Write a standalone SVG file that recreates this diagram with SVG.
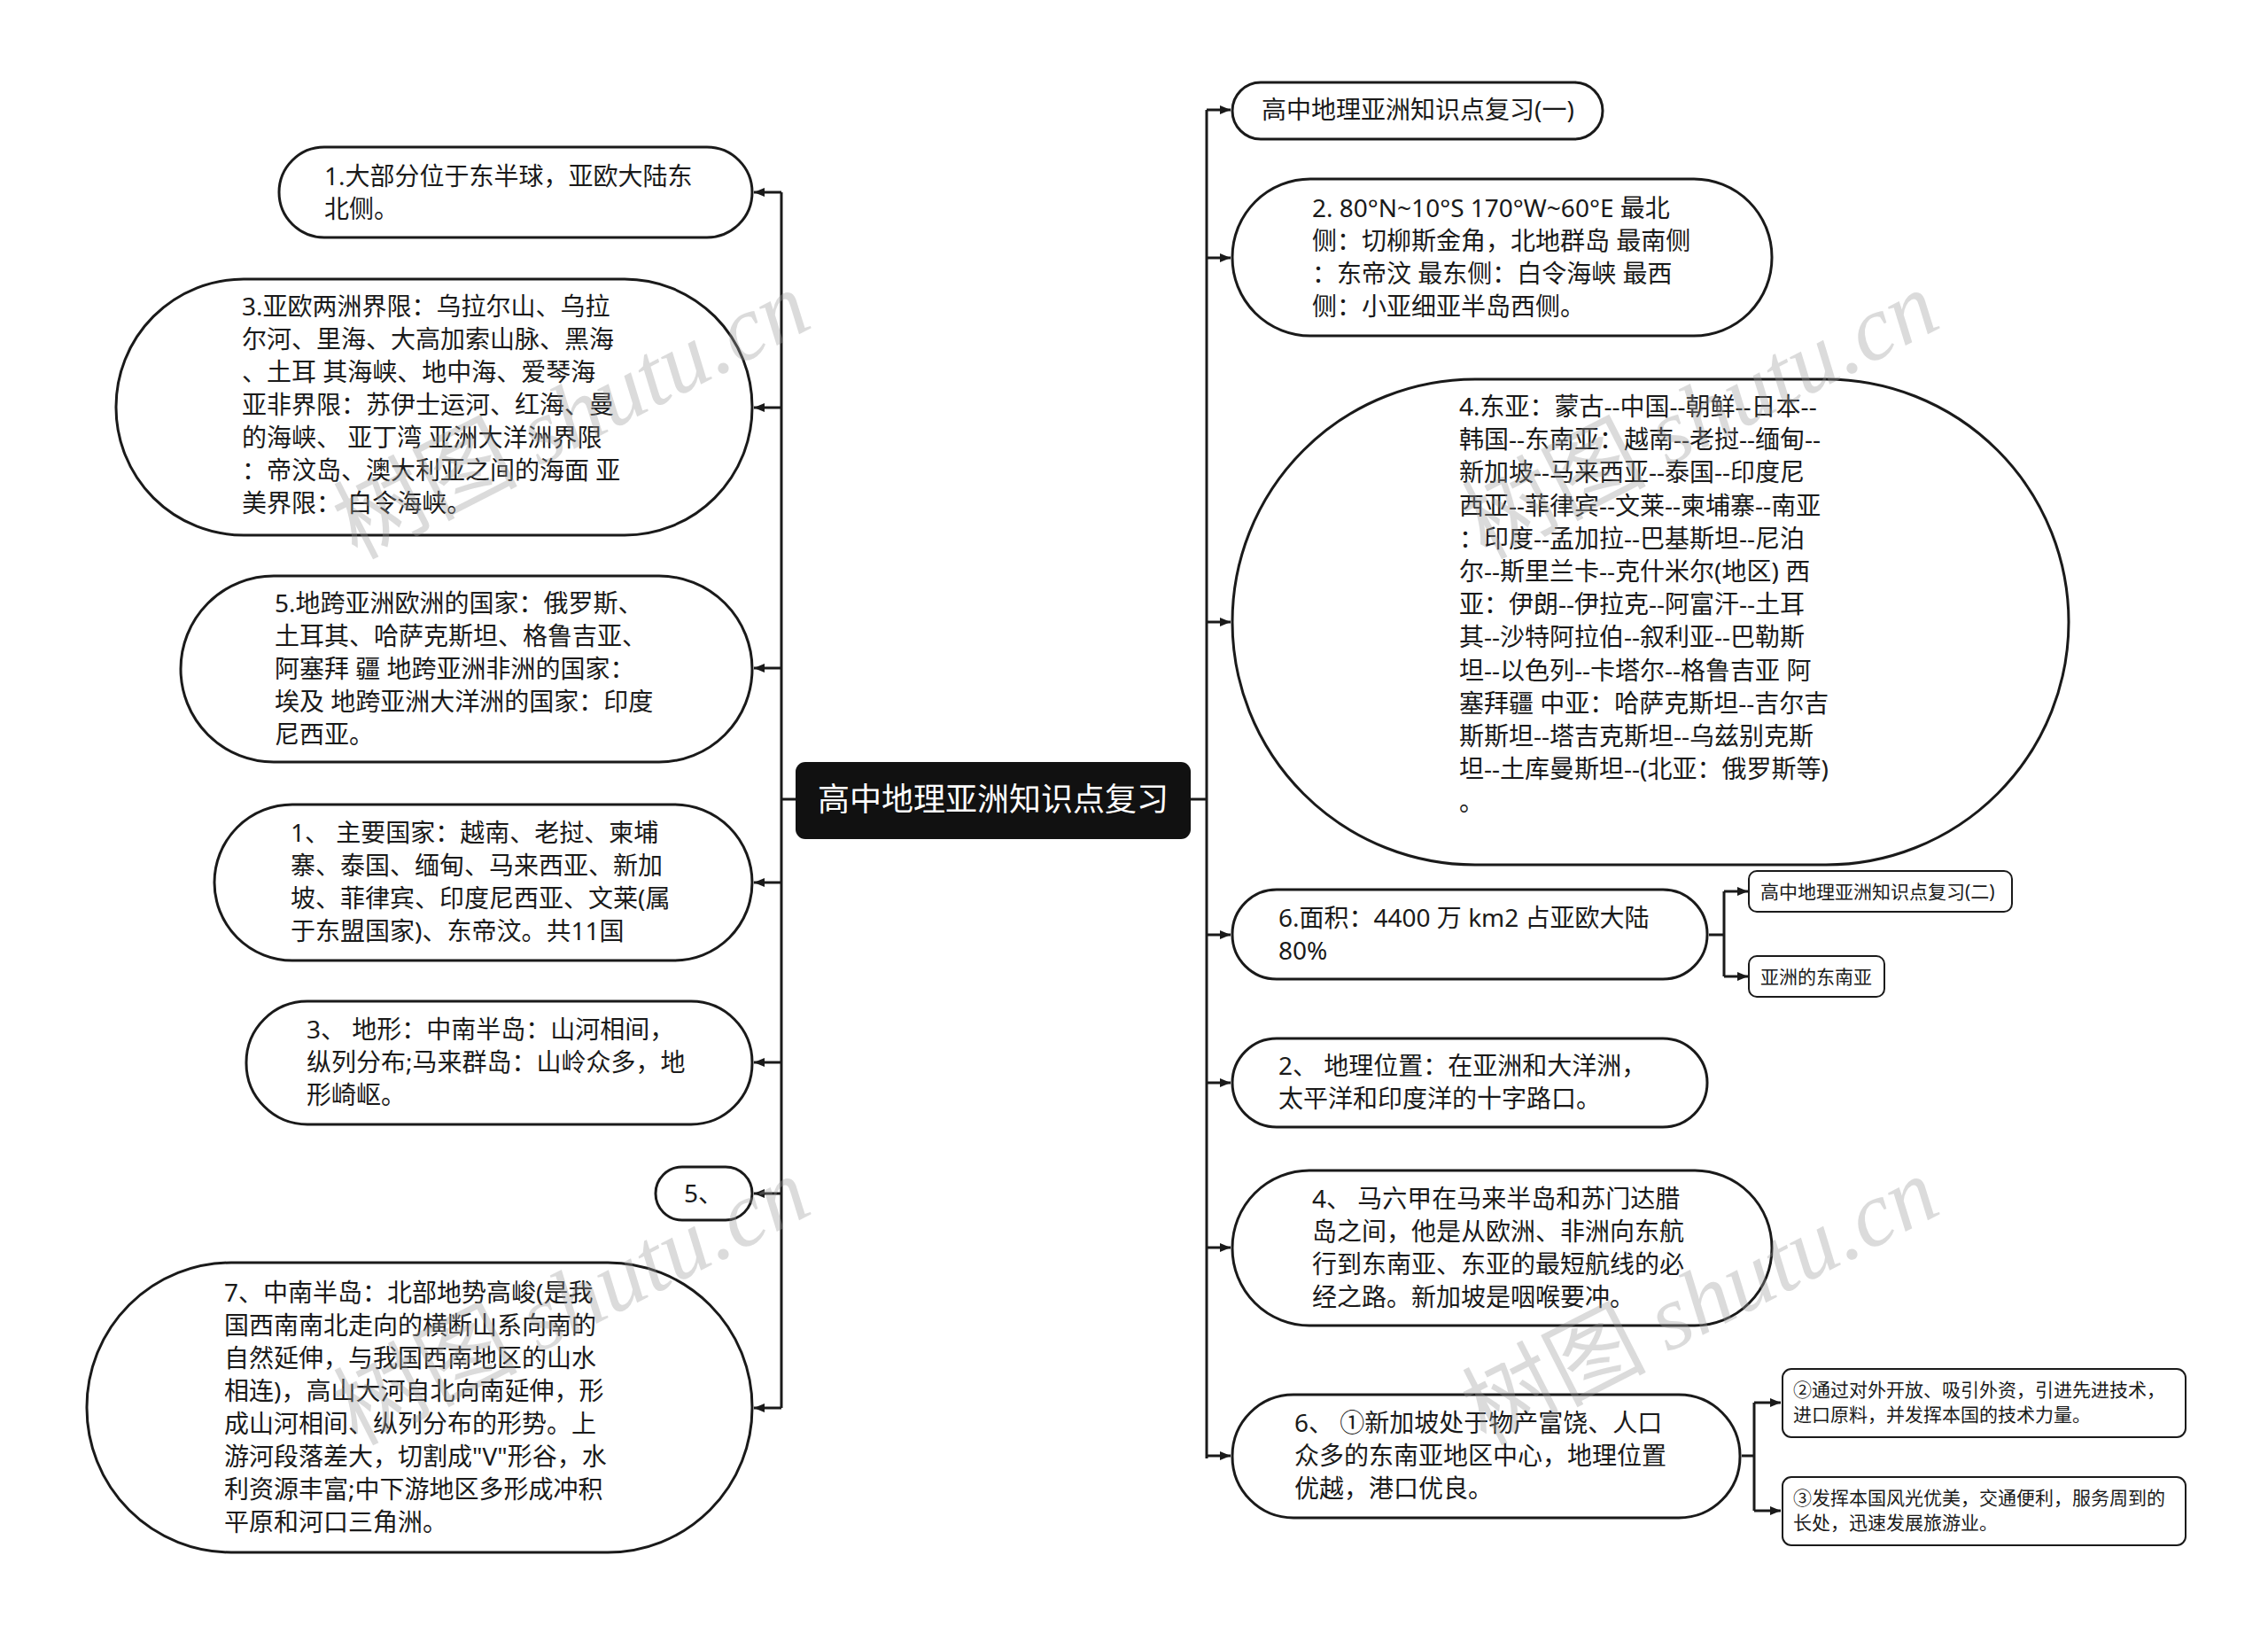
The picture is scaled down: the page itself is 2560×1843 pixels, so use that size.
<svg xmlns="http://www.w3.org/2000/svg" width="2560" height="1843" viewBox="0 0 2560 1843">
<defs>
<marker id="arr" markerUnits="userSpaceOnUse" markerWidth="12" markerHeight="10" refX="12" refY="5" orient="auto">
<path d="M0,0 L12,5 L0,10 z" fill="#1a1a1a"/>
</marker>
<style>
.n{fill:#fff;stroke:#1a1a1a;stroke-width:3}
.s{fill:#fff;stroke:#1a1a1a;stroke-width:2}
.t{font-family:"Noto Sans","Noto Sans CJK SC",sans-serif;font-size:28px;fill:#1a1a1a}
.ts{font-family:"Noto Sans","Noto Sans CJK SC",sans-serif;font-size:21px;fill:#1a1a1a}
.c{fill:none;stroke:#1a1a1a;stroke-width:3}
.wm{font-size:104px;fill:#9a9a9a;opacity:0.35}
</style>
</defs>
<rect width="2560" height="1843" fill="#fff"/>

<g id="connectors">
<path class="c" d="M898,902 H882 M882,217 V1589 M1344,902 H1362 M1362,124 V1646"/>
<path class="c" marker-end="url(#arr)" d="M882,217 H851"/>
<path class="c" marker-end="url(#arr)" d="M882,460 H851"/>
<path class="c" marker-end="url(#arr)" d="M882,754 H851"/>
<path class="c" marker-end="url(#arr)" d="M882,996 H851"/>
<path class="c" marker-end="url(#arr)" d="M882,1199 H851"/>
<path class="c" marker-end="url(#arr)" d="M882,1347 H851"/>
<path class="c" marker-end="url(#arr)" d="M882,1589 H851"/>
<path class="c" marker-end="url(#arr)" d="M1362,124 H1389"/>
<path class="c" marker-end="url(#arr)" d="M1362,291 H1389"/>
<path class="c" marker-end="url(#arr)" d="M1362,702 H1389"/>
<path class="c" marker-end="url(#arr)" d="M1362,1055 H1389"/>
<path class="c" marker-end="url(#arr)" d="M1362,1222 H1389"/>
<path class="c" marker-end="url(#arr)" d="M1362,1408 H1389"/>
<path class="c" marker-end="url(#arr)" d="M1362,1643 H1389"/>
<path class="c" d="M1929,1055 H1946 M1946,1006 V1102 M1966,1643 H1980 M1980,1583 V1705"/>
<path class="c" marker-end="url(#arr)" d="M1946,1006 H1973"/>
<path class="c" marker-end="url(#arr)" d="M1946,1102 H1973"/>
<path class="c" marker-end="url(#arr)" d="M1980,1583 H2010"/>
<path class="c" marker-end="url(#arr)" d="M1980,1705 H2010"/>
</g>

<g id="root">
<rect x="898" y="860" width="446" height="87" rx="11" fill="#111"/>
<text x="1121" y="915" text-anchor="middle" font-family="Noto Sans CJK SC, sans-serif" font-size="36" fill="#fff">高中地理亚洲知识点复习</text>
</g>

<g id="L1">
<rect class="n" x="315" y="166" width="534" height="102" rx="51"/>
<text class="t" x="366" y="209"><tspan x="366">1.大部分位于东半球，亚欧大陆东</tspan><tspan x="366" dy="37">北侧。</tspan></text>
</g>
<g id="L2">
<rect class="n" x="131" y="315" width="718" height="289" rx="144"/>
<text class="t" x="273" y="356"><tspan x="273">3.亚欧两洲界限：乌拉尔山、乌拉</tspan><tspan x="273" dy="37">尔河、里海、大高加索山脉、黑海</tspan><tspan x="273" dy="37">、土耳 其海峡、地中海、爱琴海</tspan><tspan x="273" dy="37">亚非界限：苏伊士运河、红海、曼</tspan><tspan x="273" dy="37">的海峡、 亚丁湾 亚洲大洋洲界限</tspan><tspan x="273" dy="37">：帝汶岛、澳大利亚之间的海面 亚</tspan><tspan x="273" dy="37">美界限： 白令海峡。</tspan></text>
</g>
<g id="L3">
<rect class="n" x="204" y="650" width="645" height="210" rx="105"/>
<text class="t" x="310" y="691"><tspan x="310">5.地跨亚洲欧洲的国家：俄罗斯、</tspan><tspan x="310" dy="37">土耳其、哈萨克斯坦、格鲁吉亚、</tspan><tspan x="310" dy="37">阿塞拜 疆 地跨亚洲非洲的国家：</tspan><tspan x="310" dy="37">埃及 地跨亚洲大洋洲的国家：印度</tspan><tspan x="310" dy="37">尼西亚。</tspan></text>
</g>
<g id="L4">
<rect class="n" x="242" y="908" width="607" height="176" rx="88"/>
<text class="t" x="328" y="950"><tspan x="328">1、 主要国家：越南、老挝、柬埔</tspan><tspan x="328" dy="37">寨、泰国、缅甸、马来西亚、新加</tspan><tspan x="328" dy="37">坡、菲律宾、印度尼西亚、文莱(属</tspan><tspan x="328" dy="37">于东盟国家)、东帝汶。共11国</tspan></text>
</g>
<g id="L5">
<rect class="n" x="278" y="1130" width="571" height="139" rx="69"/>
<text class="t" x="346" y="1172"><tspan x="346">3、 地形：中南半岛：山河相间，</tspan><tspan x="346" dy="37">纵列分布;马来群岛：山岭众多，地</tspan><tspan x="346" dy="37">形崎岖。</tspan></text>
</g>
<g id="L6">
<rect class="n" x="740" y="1317" width="109" height="60" rx="30"/>
<text class="t" x="772" y="1357">5、</text>
</g>
<g id="L7">
<rect class="n" x="98" y="1425" width="751" height="327" rx="163"/>
<text class="t" x="253" y="1469"><tspan x="253">7、中南半岛：北部地势高峻(是我</tspan><tspan x="253" dy="37">国西南南北走向的横断山系向南的</tspan><tspan x="253" dy="37">自然延伸，与我国西南地区的山水</tspan><tspan x="253" dy="37">相连)，高山大河自北向南延伸，形</tspan><tspan x="253" dy="37">成山河相间、纵列分布的形势。上</tspan><tspan x="253" dy="37">游河段落差大，切割成"V"形谷，水</tspan><tspan x="253" dy="37">利资源丰富;中下游地区多形成冲积</tspan><tspan x="253" dy="37">平原和河口三角洲。</tspan></text>
</g>

<g id="R1">
<rect class="n" x="1391" y="93" width="418" height="64" rx="32"/>
<text class="t" x="1424" y="134">高中地理亚洲知识点复习(一)</text>
</g>
<g id="R2">
<rect class="n" x="1391" y="202" width="609" height="177" rx="88"/>
<text class="t" x="1481" y="245"><tspan x="1481">2. 80°N~10°S 170°W~60°E 最北</tspan><tspan x="1481" dy="37">侧：切柳斯金角，北地群岛 最南侧</tspan><tspan x="1481" dy="37">：东帝汶 最东侧：白令海峡 最西</tspan><tspan x="1481" dy="37">侧：小亚细亚半岛西侧。</tspan></text>
</g>
<g id="R3">
<rect class="n" x="1391" y="428" width="944" height="548" rx="274"/>
<text class="t" x="1647" y="469"><tspan x="1647">4.东亚：蒙古--中国--朝鲜--日本--</tspan><tspan x="1647" dy="37.2">韩国--东南亚：越南--老挝--缅甸--</tspan><tspan x="1647" dy="37.2">新加坡--马来西亚--泰国--印度尼</tspan><tspan x="1647" dy="37.2">西亚--菲律宾--文莱--柬埔寨--南亚</tspan><tspan x="1647" dy="37.2">：印度--孟加拉--巴基斯坦--尼泊</tspan><tspan x="1647" dy="37.2">尔--斯里兰卡--克什米尔(地区) 西</tspan><tspan x="1647" dy="37.2">亚：伊朗--伊拉克--阿富汗--土耳</tspan><tspan x="1647" dy="37.2">其--沙特阿拉伯--叙利亚--巴勒斯</tspan><tspan x="1647" dy="37.2">坦--以色列--卡塔尔--格鲁吉亚 阿</tspan><tspan x="1647" dy="37.2">塞拜疆 中亚：哈萨克斯坦--吉尔吉</tspan><tspan x="1647" dy="37.2">斯斯坦--塔吉克斯坦--乌兹别克斯</tspan><tspan x="1647" dy="37.2">坦--土库曼斯坦--(北亚：俄罗斯等)</tspan><tspan x="1647" dy="37.2">。</tspan></text>
</g>
<g id="R4">
<rect class="n" x="1391" y="1004" width="536" height="101" rx="50"/>
<text class="t" x="1443" y="1046"><tspan x="1443">6.面积：4400 万 km2 占亚欧大陆</tspan><tspan x="1443" dy="37">80%</tspan></text>
</g>
<g id="R4a">
<rect class="s" x="1974" y="983" width="297" height="46" rx="9"/>
<text class="ts" x="1987" y="1014">高中地理亚洲知识点复习(二)</text>
</g>
<g id="R4b">
<rect class="s" x="1974" y="1079" width="153" height="46" rx="9"/>
<text class="ts" x="1987" y="1110">亚洲的东南亚</text>
</g>
<g id="R5">
<rect class="n" x="1391" y="1172" width="536" height="100" rx="50"/>
<text class="t" x="1443" y="1213"><tspan x="1443">2、 地理位置：在亚洲和大洋洲，</tspan><tspan x="1443" dy="37">太平洋和印度洋的十字路口。</tspan></text>
</g>
<g id="R6">
<rect class="n" x="1391" y="1321" width="609" height="175" rx="87"/>
<text class="t" x="1481" y="1363"><tspan x="1481">4、 马六甲在马来半岛和苏门达腊</tspan><tspan x="1481" dy="37">岛之间，他是从欧洲、非洲向东航</tspan><tspan x="1481" dy="37">行到东南亚、东亚的最短航线的必</tspan><tspan x="1481" dy="37">经之路。新加坡是咽喉要冲。</tspan></text>
</g>
<g id="R7">
<rect class="n" x="1391" y="1574" width="573" height="139" rx="69"/>
<text class="t" x="1461" y="1616"><tspan x="1461">6、 ①新加坡处于物产富饶、人口</tspan><tspan x="1461" dy="37">众多的东南亚地区中心，地理位置</tspan><tspan x="1461" dy="37">优越，港口优良。</tspan></text>
</g>
<g id="R7a">
<rect class="s" x="2012" y="1545" width="455" height="77" rx="10"/>
<text class="ts" x="2024" y="1576"><tspan x="2024">②通过对外开放、吸引外资，引进先进技术，</tspan><tspan x="2024" dy="28">进口原料，并发挥本国的技术力量。</tspan></text>
</g>
<g id="R7b">
<rect class="s" x="2012" y="1667" width="455" height="77" rx="10"/>
<text class="ts" x="2024" y="1698"><tspan x="2024">③发挥本国风光优美，交通便利，服务周到的</tspan><tspan x="2024" dy="28">长处，迅速发展旅游业。</tspan></text>
</g>

<g id="watermarks">
<text class="wm" transform="translate(661,500) rotate(-27)" text-anchor="middle"><tspan font-family="Noto Sans CJK SC, sans-serif">树图 </tspan><tspan font-family="Liberation Serif, serif" font-style="italic">shutu.cn</tspan></text>
<text class="wm" transform="translate(1935,500) rotate(-27)" text-anchor="middle"><tspan font-family="Noto Sans CJK SC, sans-serif">树图 </tspan><tspan font-family="Liberation Serif, serif" font-style="italic">shutu.cn</tspan></text>
<text class="wm" transform="translate(661,1500) rotate(-27)" text-anchor="middle"><tspan font-family="Noto Sans CJK SC, sans-serif">树图 </tspan><tspan font-family="Liberation Serif, serif" font-style="italic">shutu.cn</tspan></text>
<text class="wm" transform="translate(1935,1500) rotate(-27)" text-anchor="middle"><tspan font-family="Noto Sans CJK SC, sans-serif">树图 </tspan><tspan font-family="Liberation Serif, serif" font-style="italic">shutu.cn</tspan></text>
</g>
</svg>
